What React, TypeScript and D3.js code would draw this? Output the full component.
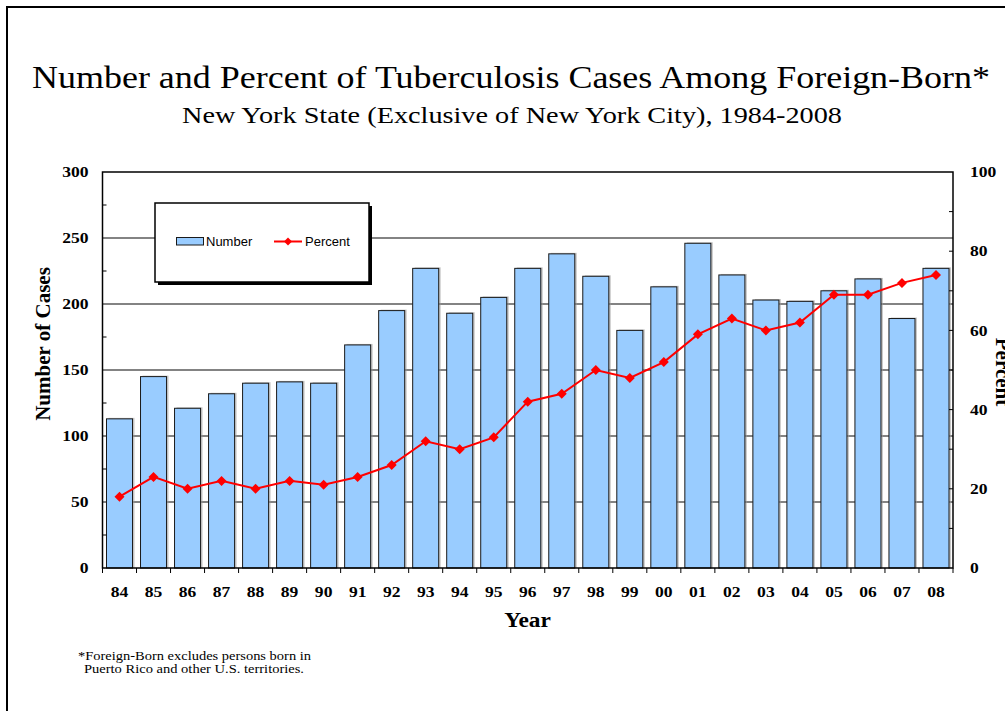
import React from 'react';
import * as d3 from 'd3';

const years = ['84', '85', '86', '87', '88', '89', '90', '91', '92', '93', '94', '95', '96', '97', '98', '99', '00', '01', '02', '03', '04', '05', '06', '07', '08'];
const cases = [113, 145, 121, 132, 140, 141, 140, 169, 195, 227, 193, 205, 227, 238, 221, 180, 213, 246, 222, 203, 202, 210, 219, 189, 227];
const percent = [18, 23, 20, 22, 20, 22, 21, 23, 26, 32, 30, 33, 42, 44, 50, 48, 52, 59, 63, 60, 62, 69, 69, 72, 74];
const leftTicks = [0, 50, 100, 150, 200, 250, 300];
const leftMinor = [25, 75, 125, 175, 225, 275];
const gridValues = [50, 100, 150, 200, 250];
const rightTicks = [0, 20, 40, 60, 80, 100];
const rightMinor = [10, 30, 50, 70, 90];

const serif = '"Liberation Serif", "Times New Roman", serif';
const sans = '"Liberation Sans", Arial, sans-serif';

// the original slide is stretched horizontally, so serif labels get a small x-scale
const SX = 1.17;

function SText(props: { x: number; y: number; anchor?: string; size: number; bold?: boolean; children: React.ReactNode }) {
  const { x, y, anchor = 'start', size, bold, children } = props;
  return (
    <text transform={`translate(${x},${y}) scale(${SX},1)`} textAnchor={anchor} dy="0.35em"
      fontFamily={serif} fontSize={size} fontWeight={bold ? 'bold' : 'normal'} fill="#000">
      {children}
    </text>
  );
}

export default function App() {
  const left = 102.5;
  const right = 953;
  const top = 172;
  const bottom = 568;

  const x = d3.scaleBand<string>()
    .domain(years)
    .range([left, right])
    .paddingInner(0.235)
    .paddingOuter(0.1175);
  const yLeft = d3.scaleLinear().domain([0, 300]).range([bottom, top]);
  const yRight = d3.scaleLinear().domain([0, 100]).range([bottom, top]);

  const pts = years.map((yr, i) => ({ yr, v: percent[i] }));
  const cx = (yr: string) => (x(yr) as number) + x.bandwidth() / 2;
  const line = d3.line<{ yr: string; v: number }>()
    .x(d => cx(d.yr))
    .y(d => yRight(d.v));
  const diamond = d3.symbol().type(d3.symbolSquare).size(50)();
  const smallDiamond = d3.symbol().type(d3.symbolSquare).size(32)();

  const step = x.step();
  const boundaries = d3.range(years.length + 1).map(i => left + i * step);

  return (
    <div style={{ position: 'fixed', left: 0, top: 0 }}>
      <svg width={1005} height={711} style={{ display: 'block', background: '#fff' }}>
        {/* outer frame */}
        <rect x={7} y={7} width={1100} height={800} fill="none" stroke="#000" strokeWidth={2} />

        {/* titles */}
        <text x={32} y={88} fontFamily={serif} fontSize={31} fill="#000" textLength={958} lengthAdjust="spacingAndGlyphs">
          Number and Percent of Tuberculosis Cases Among Foreign-Born*
        </text>
        <text x={182} y={123} fontFamily={serif} fontSize={23.5} fill="#000" textLength={660} lengthAdjust="spacingAndGlyphs">
          New York State (Exclusive of New York City), 1984-2008
        </text>

        {/* gridlines */}
        {gridValues.map(v => (
          <line key={'g' + v} x1={left} x2={right} y1={yLeft(v)} y2={yLeft(v)} stroke="#5a5a5a" strokeWidth={1.5} />
        ))}

        {/* bars */}
        {years.map((yr, i) => (
          <rect key={'s' + yr} x={(x(yr) as number) + 2} y={yLeft(cases[i]) - 1}
            width={x.bandwidth()} height={bottom - yLeft(cases[i]) + 1} fill="#9a9a9a" opacity={0.55} />
        ))}
        {years.map((yr, i) => (
          <rect key={'b' + yr} x={x(yr)} y={yLeft(cases[i])}
            width={x.bandwidth()} height={bottom - yLeft(cases[i])}
            fill="#99CCFF" stroke="#1a1a1a" strokeWidth={1} />
        ))}

        {/* percent line */}
        <path d={line(pts) || ''} fill="none" stroke="#FF0000" strokeWidth={2} />
        {pts.map(p => (
          <path key={'m' + p.yr} d={diamond}
            transform={`translate(${cx(p.yr)},${yRight(p.v)}) rotate(45)`}
            fill="#FF0000" />
        ))}

        {/* plot border / axes */}
        <rect x={left} y={top} width={right - left} height={bottom - top} fill="none" stroke="#000" strokeWidth={1.5} />

        {/* left axis */}
        {leftMinor.map(v => (
          <line key={'lm' + v} x1={left} x2={left + 4} y1={yLeft(v)} y2={yLeft(v)} stroke="#000" strokeWidth={1} />
        ))}
        {leftTicks.map(v => (
          <SText key={'lt' + v} x={88.5} y={yLeft(v)} anchor="end" size={15} bold>{v}</SText>
        ))}

        {/* right axis */}
        {rightMinor.concat(rightTicks.slice(1, 5)).map(v => (
          <line key={'rm' + v} x1={right - 4} x2={right} y1={yRight(v)} y2={yRight(v)} stroke="#000" strokeWidth={1} />
        ))}
        {rightTicks.map(v => (
          <SText key={'rt' + v} x={970} y={yRight(v)} size={15} bold>{v}</SText>
        ))}

        {/* x axis */}
        {boundaries.map((b, i) => (
          <line key={'xt' + i} x1={b} x2={b} y1={bottom} y2={bottom + 5} stroke="#000" strokeWidth={1} />
        ))}
        {years.map(yr => (
          <SText key={'xl' + yr} x={cx(yr)} y={592} anchor="middle" size={15} bold>{yr}</SText>
        ))}

        {/* axis titles */}
        <SText x={527.5} y={620} anchor="middle" size={20} bold>Year</SText>
        <text transform={`translate(50,344) rotate(-90)`} textAnchor="middle"
          fontFamily={serif} fontWeight="bold" fontSize={21}>Number of Cases</text>
        <text transform={`translate(996,372) rotate(90)`} textAnchor="middle"
          fontFamily={serif} fontWeight="bold" fontSize={21}>Percent</text>

        {/* legend */}
        <rect x={158} y={206} width={214} height={79} fill="#000" />
        <rect x={155} y={203} width={214} height={79} fill="#fff" stroke="#000" strokeWidth={1.5} />
        <rect x={176.5} y={237.5} width={27} height={7.5} fill="#99CCFF" stroke="#1a1a1a" strokeWidth={1} />
        <text x={206} y={246} fontFamily={sans} fontSize={13}>Number</text>
        <line x1={274} x2={302} y1={241.5} y2={241.5} stroke="#FF0000" strokeWidth={2} />
        <path d={smallDiamond} transform="translate(288,241.5) rotate(45)" fill="#FF0000" />
        <text x={305} y={246} fontFamily={sans} fontSize={13}>Percent</text>

        {/* footnote */}
        <text x={78} y={660} fontFamily={serif} fontSize={12.5} textLength={233} lengthAdjust="spacingAndGlyphs">
          *Foreign-Born excludes persons born in
        </text>
        <text x={84} y={672.5} fontFamily={serif} fontSize={12.5} textLength={220} lengthAdjust="spacingAndGlyphs">
          Puerto Rico and other U.S. territories.
        </text>
      </svg>
    </div>
  );
}
